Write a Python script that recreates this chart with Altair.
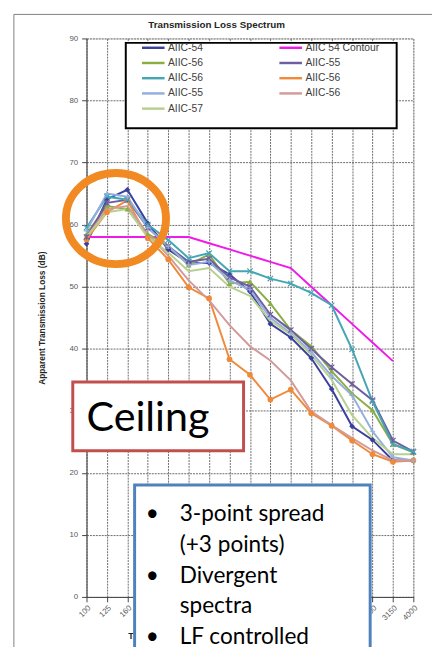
import altair as alt
import pandas as pd

# ---------------- data ----------------
freqs = ["100", "125", "160", "200", "250", "315", "400", "500", "630", "800",
         "1000", "1250", "1600", "2000", "2500", "3150", "4000"]

series_keys = ["s1", "s2", "s3", "s4", "s5", "s6", "s7", "s8", "s9"]
series_labels = ["AIIC-54", "AIIC 54 Contour", "AIIC-56", "AIIC-55", "AIIC-56",
                 "AIIC-56", "AIIC-55", "AIIC-56", "AIIC-57"]
series_colors = ["#3b3f9e", "#f01ae8", "#8aae45", "#6f5e9e", "#45a5b5",
                 "#f0893a", "#94aedd", "#d49a9a", "#b7d08e"]
# legend fills column by column: left column s1,s3,s5,s7,s9 ; right column s2,s4,s6,s8
legend_order = ["s1", "s3", "s5", "s7", "s9", "s2", "s4", "s6", "s8"]

aiic54 = [56.9, 64.1, 65.6, 60.2, 56.0, 53.8, 53.8, 52.0, 49.2, 44.0, 41.8, 38.5, 33.5, 27.5, 25.3, 22.0, 22.0]
contour54 = [58, 58, 58, 58, 58, 58, 57, 56, 55, 54, 53, 50, 47, 44, 41, 38, None]
aiic56_green = [58.5, 63.0, 62.5, 58.5, 56.5, 53.5, 55.2, 50.5, 50.8, 47.3, 43.0, 40.4, 36.4, 32.8, 30.1, 24.6, 23.3]
aiic55_purple = [58.0, 63.5, 64.0, 59.5, 56.5, 54.0, 54.5, 51.5, 50.0, 45.5, 43.0, 40.0, 37.0, 34.3, 31.7, 25.2, 23.4]
aiic56_teal = [59.5, 64.5, 64.0, 60.0, 57.5, 54.6, 55.4, 52.5, 52.5, 51.3, 50.5, 49.0, 47.0, 39.9, 31.5, 24.6, 23.4]
aiic56_orange = [57.6, 62.0, 63.9, 57.8, 54.4, 49.9, 48.1, 38.3, 35.8, 31.8, 33.4, 29.6, 27.6, 25.2, 23.0, 21.8, 22.0]
aiic55_lightblue = [59.0, 65.0, 64.5, 59.5, 56.5, 53.5, 54.0, 51.0, 49.5, 45.0, 42.5, 39.5, 35.6, 32.5, 26.7, 22.5, 22.0]
aiic56_pink = [58.0, 62.5, 63.0, 58.5, 55.0, 51.0, 47.8, 43.8, 40.4, 38.1, 34.9, 29.9, 27.7, 25.6, 23.6, 22.0, 22.0]
aiic57 = [58.0, 62.0, 62.5, 58.0, 55.5, 52.5, 53.0, 50.0, 48.5, 44.5, 42.3, 39.0, 35.0, 29.3, 25.6, 23.0, 23.0]

all_series = [aiic54, contour54, aiic56_green, aiic55_purple, aiic56_teal,
              aiic56_orange, aiic55_lightblue, aiic56_pink, aiic57]

filled_markers = {"s1": "diamond", "s3": "triangle-up", "s6": "circle"}
stroked_markers = {"s4": "M-1,-1L1,1M-1,1L1,-1M0,-1L0,1",
                   "s5": "M-1,-1L1,1M-1,1L1,-1",
                   "s7": "M-1,0L1,0M0,-1L0,1"}

title_text = "Transmission  Loss  Spectrum"
y_title = "Apparent Transmission Loss (dB)"
x_title = "Third Octave Band Center Frequency (Hz)"
ceiling_text = "Ceiling"
note_lines = ["3-point spread", "(+3 points)", "Divergent", "spectra", "LF controlled"]
note_bullets = ["•", "•", "•"]   # one bullet every second text line

rows = []
for key, vals in zip(series_keys, all_series):
    for i, (f, v) in enumerate(zip(freqs, vals)):
        if v is not None:
            rows.append({"key": key, "freq": f, "idx": i, "db": v})
df = pd.DataFrame(rows)

label_expr = "".join(f"datum.value == '{k}' ? '{l}' : " for k, l in zip(series_keys, series_labels)) + "''"
color_range = [series_colors[series_keys.index(k)] for k in legend_order]

# ---------------- encodings ----------------
FONT = "Liberation Sans"
x_enc = alt.X("freq:N", sort=freqs, scale=alt.Scale(padding=0),
              axis=alt.Axis(title=x_title, labelAngle=-45, labelFontSize=8, labelColor="#595959",
                            labelFont=FONT, titleFont=FONT, titleFontSize=9, titleColor="#262626",
                            titleFontWeight="bold", titleAnchor="start", titleAlign="left",
                            titleX=42, titleY=42, titleBaseline="alphabetic",
                            grid=True, gridColor="#6a6a6a",
                            gridDash=[2, 1], gridWidth=1, domainColor="#444", tickColor="#444",
                            tickSize=5, labelPadding=2))
y_enc = alt.Y("db:Q", scale=alt.Scale(domain=[0, 90], nice=False),
              axis=alt.Axis(title=y_title, values=list(range(0, 91, 10)), labelFontSize=8,
                            labelColor="#595959", labelFont=FONT, titleFont=FONT,
                            titleFontSize=8.5, titleFontWeight="bold", titleColor="#262626",
                            grid=True, gridColor="#6a6a6a", gridDash=[2, 1], gridWidth=1,
                            domainColor="#444", tickColor="#444", tickSize=5, labelPadding=4,
                            titlePadding=23))

color_scale = alt.Scale(domain=legend_order, range=color_range)

lines = alt.Chart(df).mark_line(strokeWidth=2).encode(
    x=x_enc, y=y_enc,
    color=alt.Color("key:N", scale=color_scale,
                    legend=alt.Legend(title=None, orient="none", legendX=55, legendY=3,
                                      columns=2, symbolType="M-1,0L3.6,0", symbolSize=100,
                                      symbolStrokeWidth=2.5, labelFont=FONT, labelFontSize=10.5,
                                      labelColor="#404040", labelOffset=15, rowPadding=3.5,
                                      columnPadding=72, padding=0, labelExpr=label_expr,
                                      zindex=1)),
    order=alt.Order("idx:Q"),
)

pts_filled = alt.Chart(df).transform_filter(
    alt.FieldOneOfPredicate(field="key", oneOf=list(filled_markers))
).mark_point(filled=True, size=34, opacity=1).encode(
    x=x_enc, y=y_enc,
    color=alt.Color("key:N", scale=color_scale, legend=None),
    shape=alt.Shape("key:N", scale=alt.Scale(domain=list(filled_markers),
                                             range=list(filled_markers.values())), legend=None),
)

pts_stroked = alt.Chart(df).transform_filter(
    alt.FieldOneOfPredicate(field="key", oneOf=list(stroked_markers))
).mark_point(filled=False, size=30, strokeWidth=1.2, opacity=1).encode(
    x=x_enc, y=y_enc,
    color=alt.Color("key:N", scale=color_scale, legend=None),
    shape=alt.Shape("key:N", scale=alt.Scale(domain=list(stroked_markers),
                                             range=list(stroked_markers.values())), legend=None),
)

one = pd.DataFrame({"a": [0]})

title_mark = alt.Chart(one).mark_text(text=title_text, font=FONT, fontSize=10, fontWeight="bold",
                                      color="#262626", align="center", baseline="alphabetic").encode(
    x=alt.value(132.5), y=alt.value(-11))

legend_box = alt.Chart(one).mark_rect(fill="white", stroke="black", strokeWidth=2).encode(
    x=alt.value(40), x2=alt.value(316), y=alt.value(4.5), y2=alt.value(91.5))

ring = alt.Chart(one).mark_point(
    shape="M-1,0A1,0.91,0,1,1,1,0A1,0.91,0,1,1,-1,0Z", filled=False, size=10404,
    stroke="#f28a24", strokeWidth=8, opacity=1).encode(x=alt.value(30), y=alt.value(183.5))

ceil_box = alt.Chart(one).mark_rect(fill="white", stroke="#c0504d", strokeWidth=3).encode(
    x=alt.value(-14), x2=alt.value(160), y=alt.value(350), y2=alt.value(420))
ceil_txt = alt.Chart(one).mark_text(text=ceiling_text, font="Lato", fontSize=42, align="left",
                                    baseline="alphabetic", color="black").encode(
    x=alt.value(0), y=alt.value(400))

note_box = alt.Chart(one).mark_rect(fill="white", stroke="#4f81bd", strokeWidth=3).encode(
    x=alt.value(49), x2=alt.value(289), y=alt.value(455), y2=alt.value(700))
note_txt = alt.Chart(one).mark_text(text=note_lines, font="Lato", fontSize=23, lineHeight=31.2,
                                    align="left", baseline="alphabetic", color="black").encode(
    x=alt.value(95), y=alt.value(492))
note_bul = alt.Chart(one).mark_text(text=note_bullets, font="Lato", fontSize=23, lineHeight=62.4,
                                    align="center", baseline="alphabetic", color="black").encode(
    x=alt.value(67), y=alt.value(492))

frame_top = alt.Chart(one).mark_rule(color="#7f7f7f", strokeWidth=1).encode(
    x=alt.value(-74), x2=alt.value(360), y=alt.value(-24.5), y2=alt.value(-24.5))
frame_left = alt.Chart(one).mark_rule(color="#7f7f7f", strokeWidth=1).encode(
    x=alt.value(-74), x2=alt.value(-74), y=alt.value(-24.5), y2=alt.value(700))

chart = alt.layer(
    lines, pts_filled, pts_stroked, legend_box, ring, ceil_box, ceil_txt,
    note_box, note_txt, note_bul, frame_top, frame_left, title_mark
).resolve_scale(shape="independent").properties(
    width=333, height=569,
    autosize=alt.AutoSizeParams(type="none"),
    padding={"left": 80, "top": 25, "right": 19, "bottom": 45},
).configure_view(strokeWidth=0).configure(background="white")

chart.save("out.html", embed_options={"renderer": "svg", "actions": False})
